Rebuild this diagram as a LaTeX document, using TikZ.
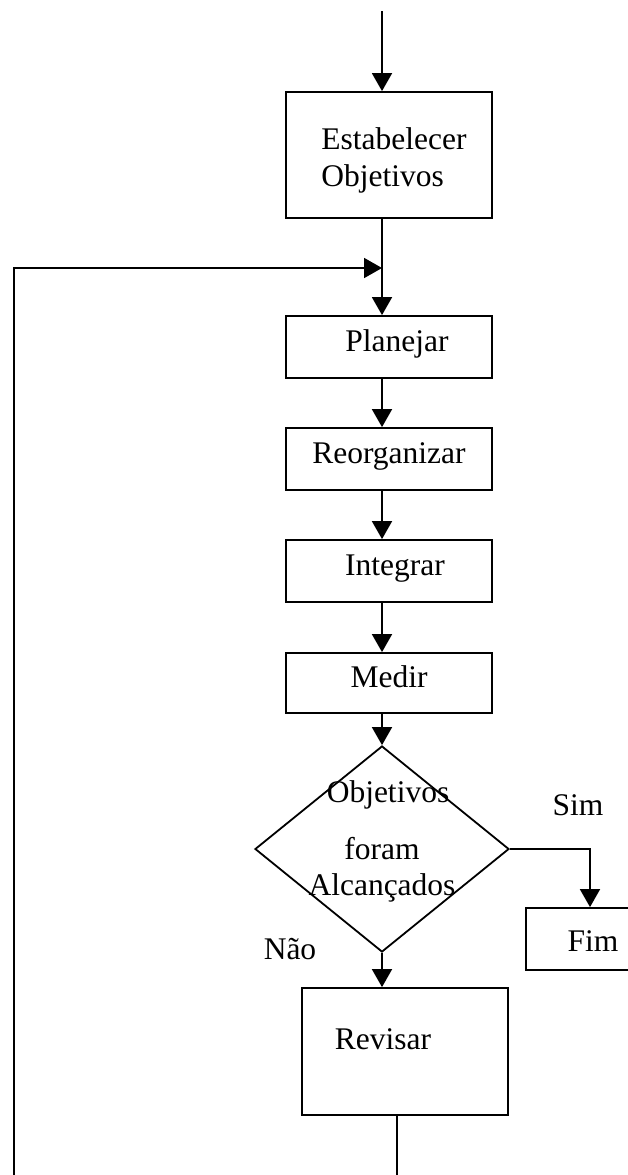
\documentclass[tikz,border=0pt]{standalone}
\usepackage{fontspec}
\setmainfont{Liberation Serif}
\usetikzlibrary{arrows.meta,shapes.geometric}
\begin{document}
\begin{tikzpicture}[x=1pt,y=-1pt,
  every node/.style={font=\fontsize{31.5}{37}\selectfont, text height=1.12em, text depth=0.2em, inner sep=0pt},
  stepbox/.style={draw, line width=1.8pt, rectangle, minimum width=206pt, minimum height=62pt},
  decision/.style={draw, line width=1.8pt, diamond, minimum width=254pt, minimum height=206pt},
  flow/.style={line width=1.8pt, -{Triangle[length=18pt,width=20pt]}},
  wire/.style={line width=1.8pt}]
\useasboundingbox (0,0) rectangle (628,1175);
\clip (0,0) rectangle (628,1175);

% main column of the flow
\coordinate (spine) at (382,0);
\coordinate (start) at (382,11);

\node[stepbox, minimum height=126pt,
  label={[name=estt, align=left, text height=, text depth=, xshift=5pt, yshift=-5pt]center:Estabelecer\\Objetivos}] (est) at (389,155) {};
\node[stepbox] (plan) at (389,347) {\hspace*{16pt}Planejar};
\node[stepbox] (reorg) at (389,459) {Reorganizar};
\node[stepbox] (integ) at (389,571) {\hspace*{12pt}Integrar};
\node[stepbox, minimum height=60pt] (medir) at (389,683) {Medir};

% decision
\node[decision] (dec) at (382,849) {};
\node (q1) at (388,798) {Objetivos};
\node (q2) at (382,855) {foram};
\node (q3) at (382,891) {Alcançados};

\node[stepbox, minimum width=134pt,
  label={[name=fimt, yshift=-8pt]center:Fim}] (fim) at (593,939) {};
\node[stepbox, minimum height=127pt,
  label={[name=revt, xshift=-22pt, yshift=7pt]center:Revisar}] (rev) at (405,1051.5) {};

\node (sim) at (578,811) {Sim};
\node (nao) at (290,955) {Não};

% connectors
\coordinate (join) at (382,268);
\coordinate (loopl) at (14,268);
\coordinate (loopb) at (14,1185);
\coordinate (simturn) at (590,843);
\coordinate (revout) at (397,1185);

\draw[flow] (start) -- (est.north -| spine);
\draw[wire] (est.south -| spine) -- (join);
\draw[flow] (join) -- (plan.north -| spine);
\draw[flow] (loopb) -- (loopl) -- (join);
\draw[flow] (plan.south -| spine) -- (reorg.north -| spine);
\draw[flow] (reorg.south -| spine) -- (integ.north -| spine);
\draw[flow] (integ.south -| spine) -- (medir.north -| spine);
\draw[flow] (medir.south -| spine) -- (dec.north);
\draw[flow] (dec.east) -- (dec.east -| simturn) -- (fim.north -| simturn);
\draw[flow] (dec.south) -- (rev.north -| dec.south);
\draw[wire] (rev.south -| revout) -- (revout);
\end{tikzpicture}
\end{document}
